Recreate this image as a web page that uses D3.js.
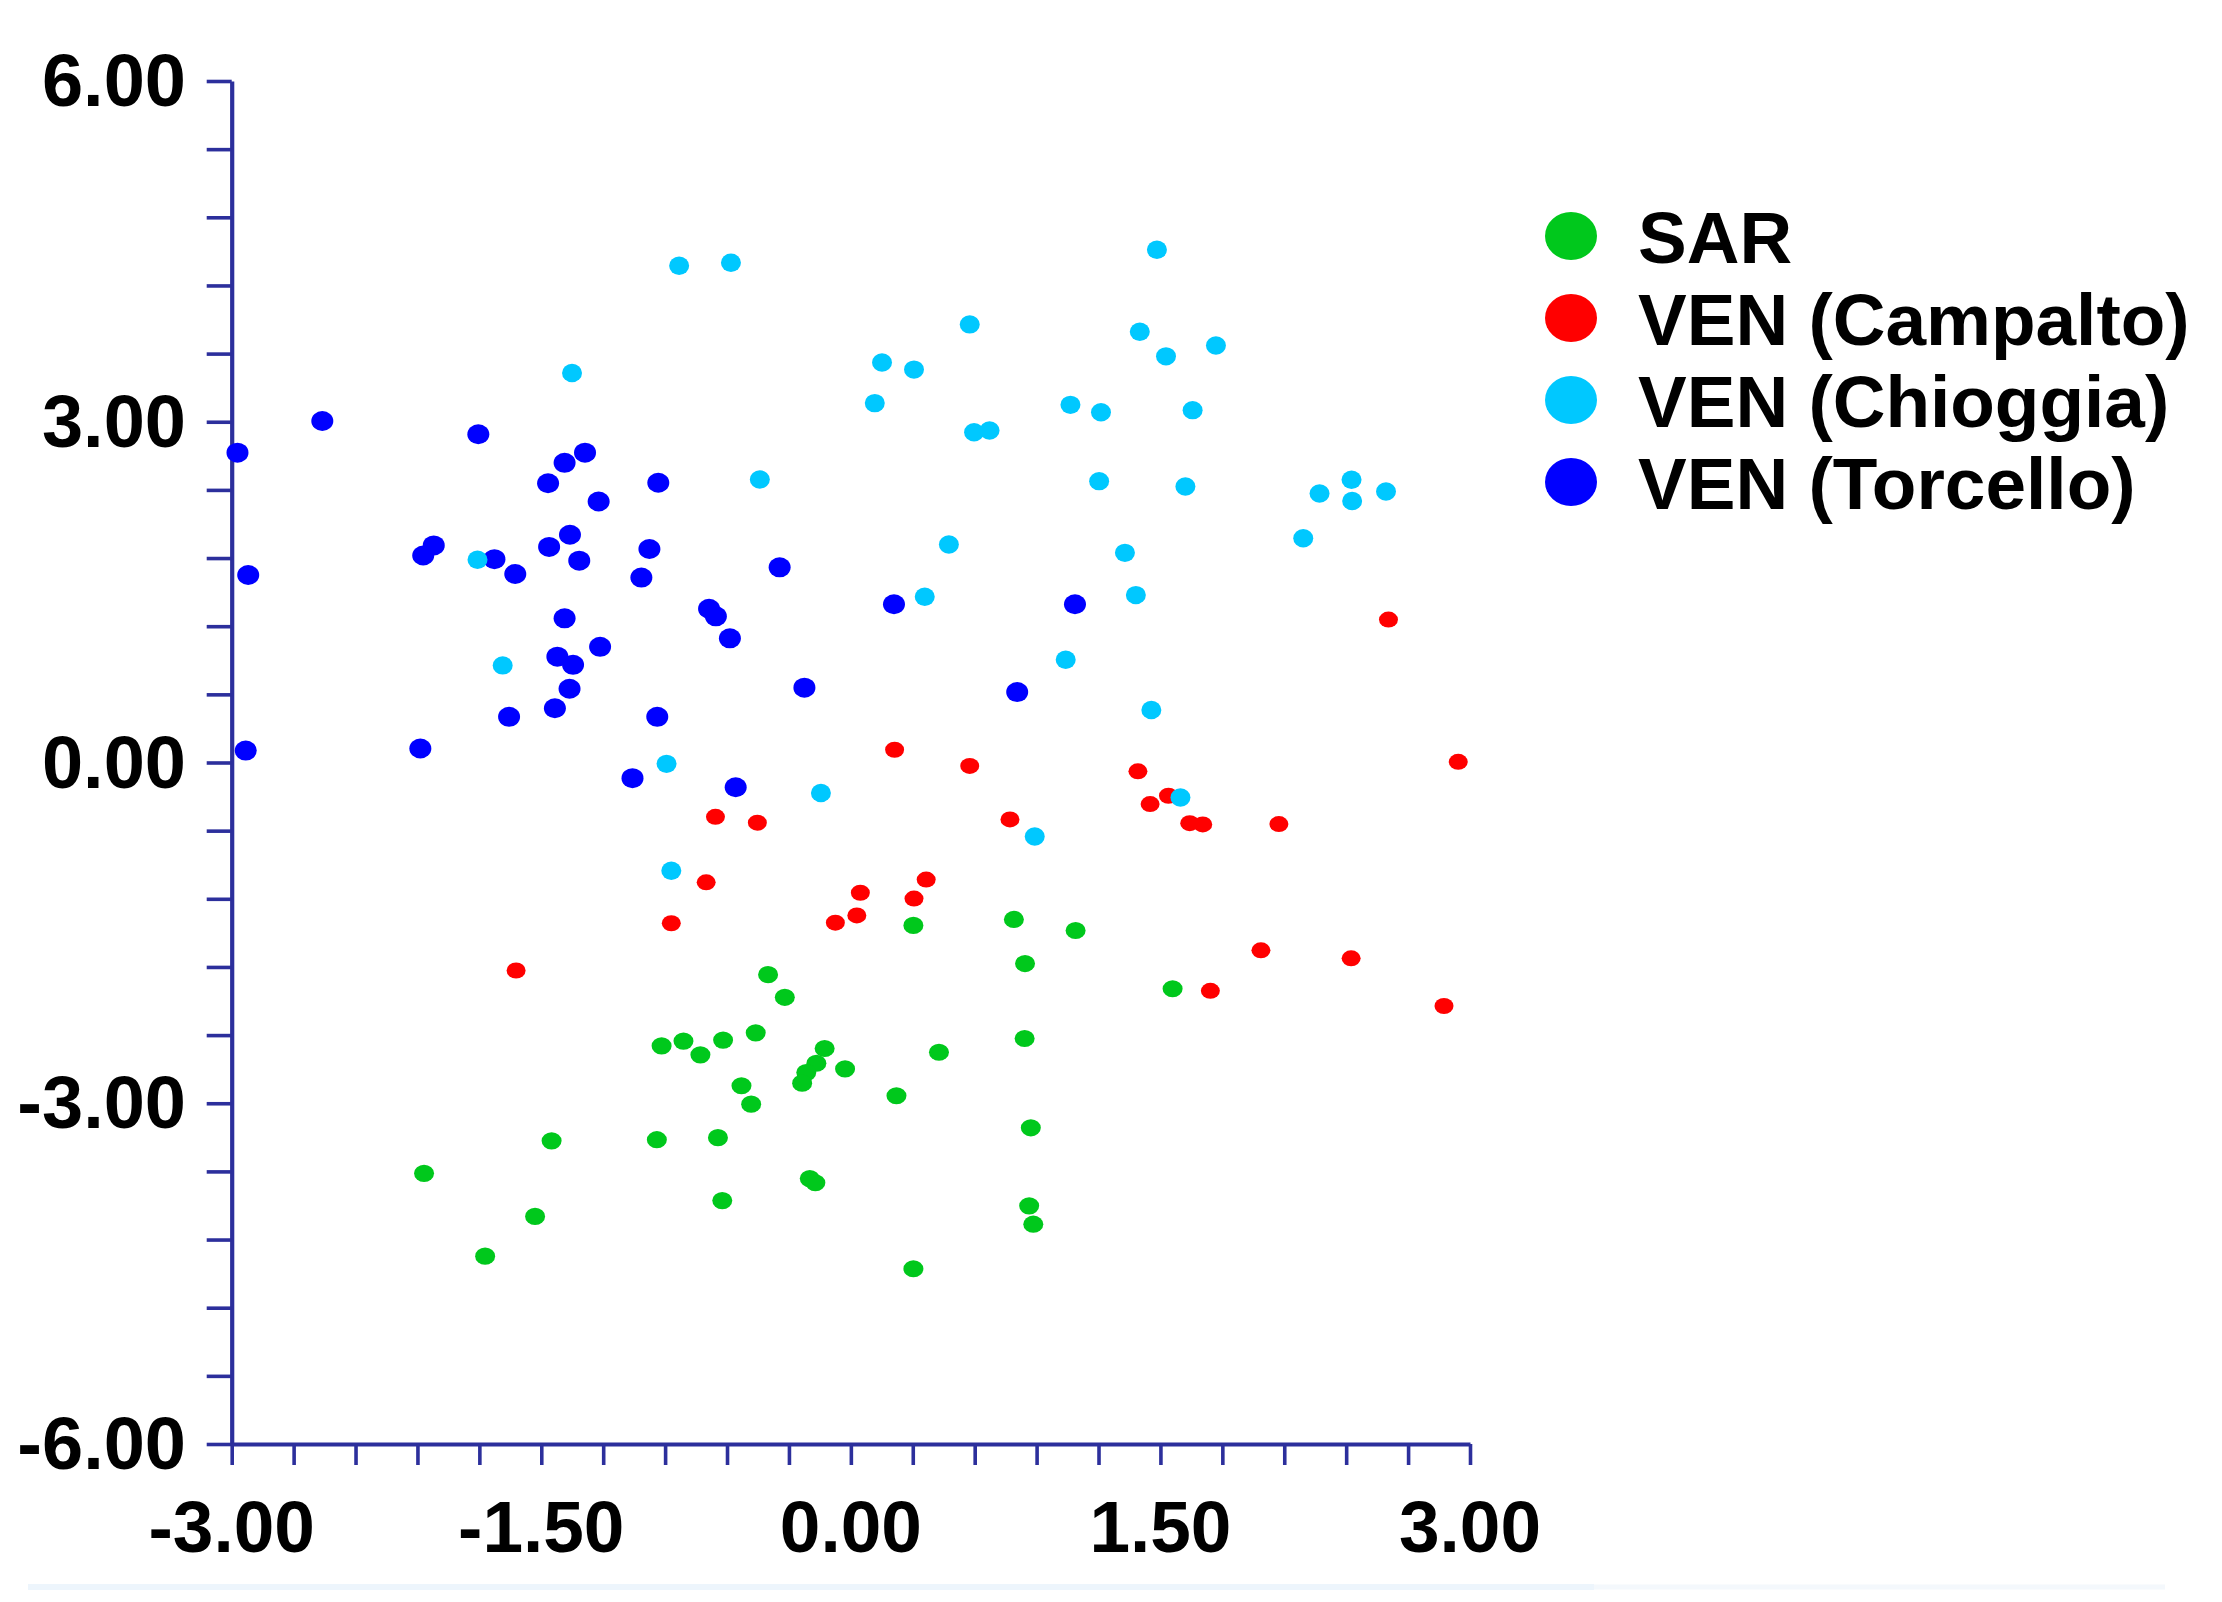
<!DOCTYPE html>
<html>
<head>
<meta charset="utf-8">
<script src="https://cdn.jsdelivr.net/npm/d3@7"></script>
<style>
  html, body { margin: 0; padding: 0; background: #ffffff; }
  svg { display: block; }
</style>
</head>
<body>
<script>
// ---------- data ----------
const seriesNames = ["SAR", "VEN (Campalto)", "VEN (Chioggia)", "VEN (Torcello)"];
const seriesColors = ["#00c81c", "#ff0000", "#00c8ff", "#0000ff"];

const sarPoints = [
  [-0.917,-2.495],[-0.811,-2.453],[-0.729,-2.574],[-0.619,-2.444],[-0.461,-2.380],
  [-0.401,-1.868],[-0.320,-2.067],[-0.530,-2.846],[-0.483,-3.008],[-0.940,-3.321],
  [-0.644,-3.303],[-1.450,-3.331],[-2.068,-3.617],[-1.530,-3.996],[-1.772,-4.346],
  [-0.623,-3.857],[-0.127,-2.518],[-0.167,-2.648],[-0.216,-2.730],[-0.236,-2.823],
  [-0.028,-2.698],[0.427,-2.551],[0.842,-2.430],[0.221,-2.934],[0.872,-3.216],
  [-0.199,-3.663],[-0.172,-3.700],[0.864,-3.903],[0.884,-4.065],[0.303,-4.457],
  [0.303,-1.434],[0.790,-1.382],[1.089,-1.479],[0.844,-1.770],[1.559,-1.992]
];
const campaltoPoints = [
  [2.605,1.258],[0.212,0.112],[0.576,-0.030],[1.391,-0.078],[2.943,0.006],
  [1.539,-0.293],[1.450,-0.366],[-0.453,-0.530],[0.771,-0.501],[1.642,-0.534],
  [1.705,-0.545],[2.074,-0.542],[-0.656,-0.478],[-0.701,-1.055],[-0.870,-1.415],
  [-1.622,-1.831],[0.365,-1.031],[0.046,-1.147],[0.306,-1.198],[0.029,-1.346],
  [-0.075,-1.410],[1.987,-1.654],[2.424,-1.724],[1.742,-2.010],[2.874,-2.144]
];
const torcelloPoints = [
  [-2.561,3.007],[-2.972,2.728],[-2.920,1.651],[-2.932,0.105],[-1.805,2.890],
  [-1.288,2.728],[-1.387,2.638],[-1.467,2.459],[-0.933,2.463],[-1.222,2.298],
  [-1.361,2.005],[-1.462,1.898],[-1.316,1.777],[-0.976,1.880],[-1.015,1.628],
  [-2.072,1.822],[-2.021,1.911],[-1.727,1.790],[-1.626,1.660],[-1.387,1.269],
  [-0.687,1.354],[-0.654,1.287],[-0.586,1.093],[-1.215,1.018],[-1.422,0.932],
  [-1.346,0.860],[-1.363,0.649],[-1.434,0.478],[-1.656,0.402],[-0.938,0.402],
  [-2.086,0.123],[-1.058,-0.138],[-0.558,-0.218],[-0.345,1.718],[0.209,1.393],
  [1.086,1.393],[-0.225,0.659],[0.806,0.620]
];
const chioggiaPoints = [
  [-0.832,4.373],[-0.581,4.400],[-1.351,3.429],[1.483,4.514],[0.576,3.857],
  [1.400,3.792],[1.769,3.671],[1.527,3.576],[0.151,3.522],[0.306,3.459],
  [0.116,3.164],[1.064,3.149],[1.212,3.083],[1.656,3.102],[0.597,2.908],
  [0.672,2.923],[-0.441,2.492],[1.203,2.477],[1.621,2.430],[2.271,2.368],
  [2.426,2.489],[2.429,2.302],[2.593,2.386],[2.192,1.974],[0.475,1.919],
  [1.328,1.846],[0.358,1.459],[1.381,1.474],[1.041,0.904],[1.456,0.462],
  [-0.145,-0.268],[1.597,-0.308],[0.891,-0.651],[-1.809,1.785],[-1.687,0.855],
  [-0.893,-0.012],[-0.870,-0.953]
];

const xLabelValues = [-3, -1.5, 0, 1.5, 3];
const xTickLabels = ["-3.00", "-1.50", "0.00", "1.50", "3.00"];
const yLabelValues = [6, 3, 0, -3, -6];
const yTickLabels = ["6.00", "3.00", "0.00", "-3.00", "-6.00"];
const xMinorStep = 0.3;
const yMinorStep = 0.6;

// ---------- layout ----------
const W = 2222, H = 1602;
const axisColor = "#2c2f9c";
const font = "'Liberation Sans', Arial, sans-serif";

const svg = d3.select("body").append("svg")
  .attr("width", W).attr("height", H)
  .attr("viewBox", `0 0 ${W} ${H}`);
svg.append("rect").attr("width", W).attr("height", H).attr("fill", "#ffffff");

// faint border line near bottom
svg.append("line").attr("x1", 28).attr("x2", 1594).attr("y1", 1587).attr("y2", 1587)
  .attr("stroke", "#edf5fc").attr("stroke-width", 6);
svg.append("line").attr("x1", 1594).attr("x2", 2165).attr("y1", 1587).attr("y2", 1587)
  .attr("stroke", "#f4f8fc").attr("stroke-width", 5);

const x = d3.scaleLinear().domain([-3, 3]).range([231.7, 1470]);
const y = d3.scaleLinear().domain([-6, 6]).range([1444, 81]);

const xMinor = d3.range(0, 21).map(i => -3 + i * xMinorStep);
const yMinor = d3.range(0, 21).map(i => -6 + i * yMinorStep);

// y axis
const gy = svg.append("g").attr("transform", `translate(${x(-3)},0)`)
  .call(d3.axisLeft(y).tickValues(yMinor).tickSize(25).tickSizeOuter(0).tickFormat(""));
// x axis
const gx = svg.append("g").attr("transform", `translate(0,${y(-6)})`)
  .call(d3.axisBottom(x).tickValues(xMinor).tickSize(21).tickSizeOuter(0).tickFormat(""));

[gx, gy].forEach(g => {
  g.select(".domain").attr("stroke", axisColor).attr("stroke-width", 4.2);
  g.selectAll(".tick line").attr("stroke", axisColor).attr("stroke-width", 3.6);
});

// tick labels
svg.append("g").selectAll("text").data(yLabelValues).join("text")
  .attr("x", 186).attr("y", d => y(d) + 25)
  .attr("text-anchor", "end")
  .attr("font-family", font).attr("font-weight", "bold").attr("font-size", 74)
  .attr("fill", "#000").text((d, i) => yTickLabels[i]);

svg.append("g").selectAll("text").data(xLabelValues).join("text")
  .attr("x", d => x(d)).attr("y", 1552)
  .attr("text-anchor", "middle")
  .attr("font-family", font).attr("font-weight", "bold").attr("font-size", 73)
  .attr("fill", "#000").text((d, i) => xTickLabels[i]);

// points
const groups = [
  { data: sarPoints, color: seriesColors[0], rx: 10, ry: 8.6 },
  { data: campaltoPoints, color: seriesColors[1], rx: 9.5, ry: 8 },
  { data: torcelloPoints, color: seriesColors[3], rx: 11, ry: 10 },
  { data: chioggiaPoints, color: seriesColors[2], rx: 10, ry: 9.2 }
];
groups.forEach(gr => {
  svg.append("g").selectAll("ellipse").data(gr.data).join("ellipse")
    .attr("cx", d => x(d[0])).attr("cy", d => y(d[1]))
    .attr("rx", gr.rx).attr("ry", gr.ry)
    .attr("fill", gr.color);
});

// legend
const legendY = d3.scaleLinear().domain([0, 3]).range([236, 482]);
const lg = svg.append("g");
seriesNames.forEach((name, i) => {
  lg.append("ellipse").attr("cx", 1571).attr("cy", legendY(i))
    .attr("rx", 26).attr("ry", 24).attr("fill", seriesColors[i]);
  lg.append("text").attr("x", 1638).attr("y", legendY(i) + 27)
    .attr("font-family", font).attr("font-weight", "bold").attr("font-size", 73)
    .attr("fill", "#000").text(name);
});
</script>
</body>
</html>
